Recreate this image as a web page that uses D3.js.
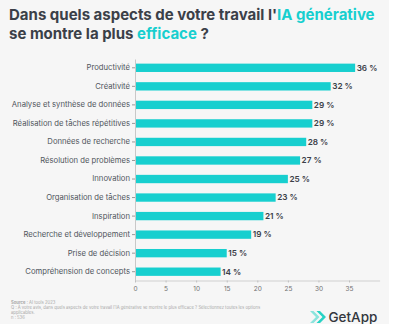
<!DOCTYPE html>
<html>
<head>
<meta charset="utf-8">
<script src="https://cdn.jsdelivr.net/npm/d3@7"></script>
<style>
  body { margin: 0; background: #fff; }
  svg { display: block; font-family: Inter, "Noto Sans", sans-serif; }
</style>
</head>
<body>
<script>
// survey answers, share of respondents (%)
var categories = [
  "Productivité", "Créativité", "Analyse et synthèse de données",
  "Réalisation de tâches répétitives", "Données de recherche",
  "Résolution de problèmes", "Innovation", "Organisation de tâches",
  "Inspiration", "Recherche et développement", "Prise de décision",
  "Compréhension de concepts"
];
var values = [36, 32, 29, 29, 28, 27, 25, 23, 21, 19, 15, 14];
var xTicks = [0, 5, 10, 15, 20, 25, 30, 35];
var footLines = [
  "Q : À votre avis, dans quels aspects de votre travail l'IA générative se montre le plus efficace ?  Sélectionnez toutes les options",
  "applicables.",
  "n : 536"
];

var width = 402,
    height = 324;

var teal = "#17cfcf",
    ink = "#3b4048";

var svg = d3.select("body").append("svg")
    .attr("width", width)
    .attr("height", height);

// panel background
svg.append("rect")
    .attr("width", 389)
    .attr("height", height)
    .attr("fill", "#f6f6f6");

// title
var title = svg.append("text")
    .attr("x", 9)
    .attr("y", 20)
    .attr("font-size", 15)
    .attr("font-weight", 700)
    .attr("fill", ink);
title.append("tspan").text("Dans quels aspects de votre travail l'");
title.append("tspan").attr("fill", teal).text("IA générative");

var title2 = svg.append("text")
    .attr("x", 9)
    .attr("y", 39)
    .attr("font-size", 15)
    .attr("font-weight", 700)
    .attr("fill", ink);
title2.append("tspan").text("se montre la plus ");
title2.append("tspan").attr("fill", teal).text("efficace");
title2.append("tspan").text(" ?");

var x = d3.scaleLinear()
    .domain([0, 40])
    .range([135, 379.6]);

var y = d3.scaleBand()
    .domain(categories)
    .range([59, 280.5])
    .paddingInner(0.55)
    .paddingOuter(0.25);

// bars
svg.append("g")
    .selectAll("rect")
    .data(values)
    .enter().append("rect")
    .attr("x", x(0))
    .attr("y", function(d, i) { return y(categories[i]); })
    .attr("width", function(d) { return x(d) - x(0); })
    .attr("height", y.bandwidth())
    .attr("fill", teal);

// value labels
svg.append("g")
    .selectAll("text")
    .data(values)
    .enter().append("text")
    .attr("x", function(d) { return x(d) + 1.5; })
    .attr("y", function(d, i) { return y(categories[i]) + y.bandwidth() / 2; })
    .attr("dy", "0.35em")
    .attr("font-size", 8.2)
    .attr("font-weight", 600)
    .attr("fill", ink)
    .text(function(d) { return d + " %"; });

// y axis
var yAxis = svg.append("g")
    .attr("transform", "translate(" + x(0) + ",0)")
    .call(d3.axisLeft(y).tickSize(3).tickPadding(2).tickSizeOuter(0));
yAxis.select(".domain").attr("stroke", "#c8c8c8");
yAxis.selectAll(".tick line").attr("stroke", "#999");
yAxis.selectAll("text")
    .attr("font-size", 7.7)
    .attr("fill", "#50555c")
    .attr("font-family", "Inter, sans-serif");

// x axis
var xAxis = svg.append("g")
    .attr("transform", "translate(0,280.5)")
    .call(d3.axisBottom(x).tickValues(xTicks).tickSize(2).tickPadding(4).tickSizeOuter(0));
xAxis.select(".domain").attr("stroke", "#d0d0d0");
xAxis.selectAll(".tick line").attr("stroke", "#c0c0c0");
xAxis.selectAll("text")
    .attr("font-size", 6.5)
    .attr("fill", "#707070")
    .attr("font-family", "Inter, sans-serif");

// footnote
var foot = svg.append("g")
    .attr("font-size", 4.2)
    .attr("fill", "#a8a8a8");
var src = foot.append("text").attr("x", 11).attr("y", 303.5);
src.append("tspan").attr("font-weight", 700).text("Source");
src.append("tspan").text(" : AI tools 2023");
foot.selectAll(".line")
    .data(footLines)
    .enter().append("text")
    .attr("x", 11)
    .attr("y", function(d, i) { return 309 + i * 5; })
    .text(function(d) { return d; });

// logo: two chevrons and the wordmark
var logo = svg.append("g").attr("transform", "translate(310,317)");
[0, 6.5].forEach(function(dx, k) {
  logo.append("path")
      .attr("d", "M" + dx + ",-6 L" + (dx + 6) + ",0 L" + dx + ",6 L" + (dx + 3.5) + ",6 L" + (dx + 9.5) + ",0 L" + (dx + 3.5) + ",-6 Z")
      .attr("fill", k ? "#26d2c4" : "#8ae4dd");
});
logo.append("text")
    .attr("x", 18.5)
    .attr("y", 4.5)
    .attr("font-size", 13.5)
    .attr("font-weight", 500)
    .attr("fill", "#33373d")
    .text("GetApp");
</script>
</body>
</html>
